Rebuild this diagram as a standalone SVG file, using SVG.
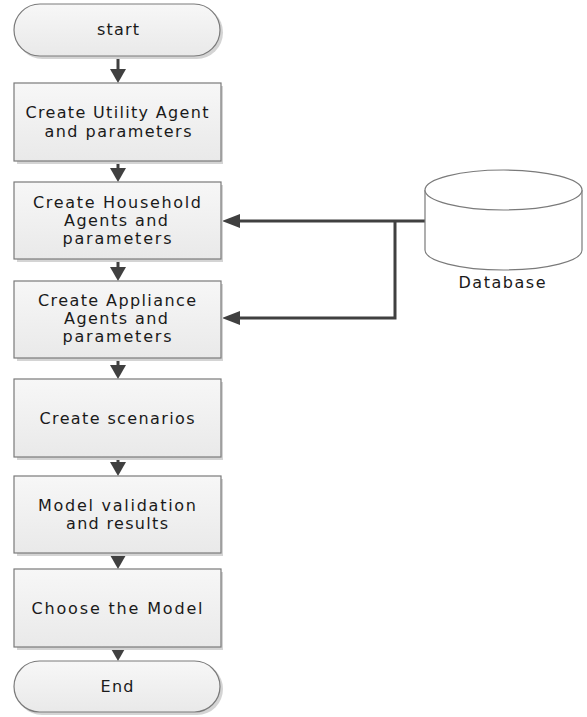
<svg xmlns="http://www.w3.org/2000/svg" width="587" height="717" viewBox="0 0 587 717">
  <style>
    .shape { fill: url(#boxFill); stroke: #7a7a7a; stroke-width: 1.2; }
    .shadow { fill: #d4d4d4; }
    .label { font-family: "DejaVu Sans", "Open Sans", sans-serif; font-size: 16px; fill: #1a1a1a; text-anchor: middle; }
    .flow { fill: none; stroke: #404040; stroke-width: 3; }
    .head { fill: #404040; }
    .db { fill: #ffffff; stroke: #7a7a7a; stroke-width: 1.2; }
  </style>
  <defs>
    <linearGradient id="boxFill" x1="0" y1="0" x2="0" y2="1">
      <stop offset="0" stop-color="#f7f7f7"/>
      <stop offset="1" stop-color="#e9e9e9"/>
    </linearGradient>
  </defs>

  <rect width="587" height="717" fill="#ffffff"/>

  <!-- connectors -->
  <g id="connectors">
    <path class="flow" d="M118 56 V70"/>
    <polygon class="head" points="110,69 126,69 118,83"/>
    <path class="flow" d="M118 162 V169"/>
    <polygon class="head" points="110,168 126,168 118,182"/>
    <path class="flow" d="M118 260 V268"/>
    <polygon class="head" points="110,267 126,267 118,281"/>
    <path class="flow" d="M118 359 V366"/>
    <polygon class="head" points="110,365 126,365 118,379"/>
    <path class="flow" d="M118 458 V463"/>
    <polygon class="head" points="110,462 126,462 118,476"/>
    <path class="flow" d="M118 554 V556"/>
    <polygon class="head" points="110,555 126,555 118,569"/>
    <polygon class="head" points="110,647 126,647 118,661"/>
    <!-- database feeds -->
    <path class="flow" d="M425 221 H238"/>
    <polygon class="head" points="222,221 240,214 240,228"/>
    <path class="flow" d="M395 221 V318 H238"/>
    <polygon class="head" points="222,318 240,311 240,325"/>
  </g>

  <g id="start">
    <rect class="shadow" x="16" y="6" width="207" height="53" rx="26.5"/>
    <rect class="shape" x="14" y="4" width="206" height="52" rx="26"/>
    <text class="label" x="118" y="35" textLength="42" lengthAdjust="spacing">start</text>
  </g>

  <g id="utility">
    <rect class="shadow" x="17" y="86" width="206" height="78"/>
    <rect class="shape" x="14" y="83" width="207" height="78"/>
    <text class="label" x="117" y="118" textLength="183" lengthAdjust="spacing">Create Utility Agent</text>
    <text class="label" x="118" y="137" textLength="147" lengthAdjust="spacing">and parameters</text>
  </g>

  <g id="household">
    <rect class="shadow" x="17" y="185" width="206" height="77"/>
    <rect class="shape" x="14" y="182" width="207" height="77"/>
    <text class="label" x="117" y="208" textLength="168" lengthAdjust="spacing">Create Household</text>
    <text class="label" x="116" y="226" textLength="104" lengthAdjust="spacing">Agents and</text>
    <text class="label" x="117" y="244" textLength="109" lengthAdjust="spacing">parameters</text>
  </g>

  <g id="appliance">
    <rect class="shadow" x="17" y="284" width="206" height="77"/>
    <rect class="shape" x="14" y="281" width="207" height="77"/>
    <text class="label" x="117" y="306" textLength="158" lengthAdjust="spacing">Create Appliance</text>
    <text class="label" x="116" y="324" textLength="104" lengthAdjust="spacing">Agents and</text>
    <text class="label" x="117" y="342" textLength="109" lengthAdjust="spacing">parameters</text>
  </g>

  <g id="scenarios">
    <rect class="shadow" x="17" y="382" width="206" height="78"/>
    <rect class="shape" x="14" y="379" width="207" height="78"/>
    <text class="label" x="117" y="424" textLength="155" lengthAdjust="spacing">Create scenarios</text>
  </g>

  <g id="validation">
    <rect class="shadow" x="17" y="479" width="206" height="77"/>
    <rect class="shape" x="14" y="476" width="207" height="77"/>
    <text class="label" x="117" y="511" textLength="158" lengthAdjust="spacing">Model validation</text>
    <text class="label" x="117" y="529" textLength="102" lengthAdjust="spacing">and results</text>
  </g>

  <g id="choose">
    <rect class="shadow" x="17" y="572" width="206" height="78"/>
    <rect class="shape" x="14" y="569" width="207" height="78"/>
    <text class="label" x="117" y="614" textLength="171" lengthAdjust="spacing">Choose the Model</text>
  </g>

  <g id="end">
    <rect class="shadow" x="16" y="663" width="207" height="52" rx="26"/>
    <rect class="shape" x="14" y="661" width="206" height="51" rx="25.5"/>
    <text class="label" x="117" y="692" textLength="33" lengthAdjust="spacing">End</text>
  </g>

  <g id="database">
    <path class="db" d="M425 190 V250 A78.5 20 0 0 0 582 250 V190 A78.5 20 0 0 0 425 190 Z"/>
    <path class="db" d="M425 190 A78.5 20 0 0 0 582 190" fill="none"/>
    <text class="label" x="502" y="288" textLength="87" lengthAdjust="spacing">Database</text>
  </g>
</svg>
